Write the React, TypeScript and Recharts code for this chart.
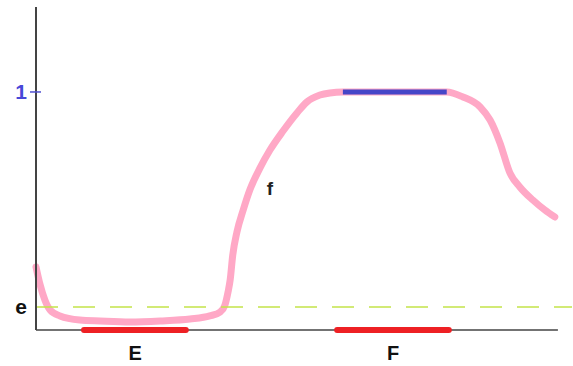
import {
  ComposedChart,
  Line,
  XAxis,
  YAxis,
  ReferenceLine,
  ReferenceDot,
} from "recharts";

// curve f (x in 0..10, y with 1 = plateau)
const curveX = [
  0, 0.08, 0.17, 0.27, 0.46, 0.84, 1.23, 1.8, 2.38, 2.95, 3.33, 3.53, 3.62,
  3.68, 3.72, 3.77, 3.85, 3.97, 4.1, 4.29, 4.48, 4.73, 5.0, 5.19, 5.44, 5.63,
  5.88, 6.9, 7.87, 8.18, 8.51, 8.7, 8.89, 9.08, 9.27, 9.52, 9.75, 9.94,
];
const curveY = [
  0.265, 0.189, 0.126, 0.084, 0.059, 0.042, 0.038, 0.034, 0.038, 0.046, 0.059,
  0.076, 0.105, 0.16, 0.21, 0.315, 0.412, 0.504, 0.59, 0.68, 0.755, 0.835,
  0.912, 0.958, 0.987, 0.996, 1, 1, 1, 0.979, 0.937, 0.882, 0.786, 0.66, 0.601,
  0.546, 0.504, 0.475,
];

const plateau = [5.88, 7.87];
const intervalE = [0.92, 2.87];
const intervalF = [5.77, 7.91];
const eValue = 0.097;
const xTicks = [1.9, 6.84];
const xTickLabels = ["E", "F"];
const yTicks = [eValue, 1];
const yTickLabels = ["e", "1"];

const curveData = curveX.map((x, i) => ({ x, y: curveY[i] }));
const plateauData = plateau.map((x) => ({ x, y: 1 }));

const FONT = "'Liberation Sans', Arial, sans-serif";

function YTick(props: any) {
  const { x, y, payload } = props;
  const idx = yTicks.indexOf(payload.value);
  const isOne = idx === 1;
  return (
    <g>
      {isOne && (
        <line x1={x + 2} x2={x + 13} y1={y} y2={y} stroke="#5050d0" strokeWidth={1.5} />
      )}
      <text
        x={x - 1}
        y={y}
        dy={7}
        textAnchor="end"
        fontFamily={FONT}
        fontWeight="bold"
        fontSize={21}
        fill={isOne ? "#4848d8" : "#111"}
      >
        {yTickLabels[idx]}
      </text>
    </g>
  );
}

function XTick(props: any) {
  const { x, y, payload } = props;
  const idx = xTicks.indexOf(payload.value);
  return (
    <text
      x={x}
      y={y}
      dy={22}
      textAnchor="middle"
      fontFamily={FONT}
      fontWeight="bold"
      fontSize={20}
      fill="#111"
    >
      {xTickLabels[idx]}
    </text>
  );
}

export default function App() {
  return (
    <div style={{ position: "absolute", left: 0, top: 0, background: "#fff" }}>
      <ComposedChart
        width={573}
        height={366}
        margin={{ top: 7, right: 1, bottom: 0, left: 0 }}
      >
        <XAxis
          type="number"
          dataKey="x"
          domain={[0, 10.27]}
          ticks={xTicks}
          tick={<XTick />}
          tickLine={false}
          axisLine={false}
          height={36}
          allowDuplicatedCategory={false}
        />
        <YAxis
          type="number"
          dataKey="y"
          domain={[0, 1.357]}
          ticks={yTicks}
          tick={<YTick />}
          tickLine={false}
          axisLine={{ stroke: "#444", strokeWidth: 2 }}
          width={36}
        />
        <ReferenceLine
          segment={[
            { x: 0, y: 0 },
            { x: 10, y: 0 },
          ]}
          stroke="#444"
          strokeWidth={1.5}
        />
        <Line
          data={curveData}
          dataKey="y"
          type="monotone"
          stroke="#ffa8c6"
          strokeWidth={7}
          strokeLinecap="round"
          strokeLinejoin="round"
          dot={false}
          activeDot={false}
          isAnimationActive={false}
        />
        <Line
          data={plateauData}
          dataKey="y"
          type="linear"
          stroke="#4646c8"
          strokeWidth={5}
          dot={false}
          activeDot={false}
          isAnimationActive={false}
        />
        <ReferenceLine
          y={eValue}
          stroke="#c4e44a"
          strokeWidth={1.5}
          strokeDasharray="22 15"
        />
        <ReferenceLine
          segment={[
            { x: intervalE[0], y: 0 },
            { x: intervalE[1], y: 0 },
          ]}
          stroke="#ee2024"
          strokeWidth={6}
          strokeLinecap="round"
        />
        <ReferenceLine
          segment={[
            { x: intervalF[0], y: 0 },
            { x: intervalF[1], y: 0 },
          ]}
          stroke="#ee2024"
          strokeWidth={6}
          strokeLinecap="round"
        />
        <ReferenceDot
          x={4.48}
          y={0.597}
          r={0}
          label={{
            value: "f",
            position: "center",
            fontFamily: FONT,
            fontWeight: "bold",
            fontSize: 19,
            fill: "#222",
          }}
        />
      </ComposedChart>
    </div>
  );
}
